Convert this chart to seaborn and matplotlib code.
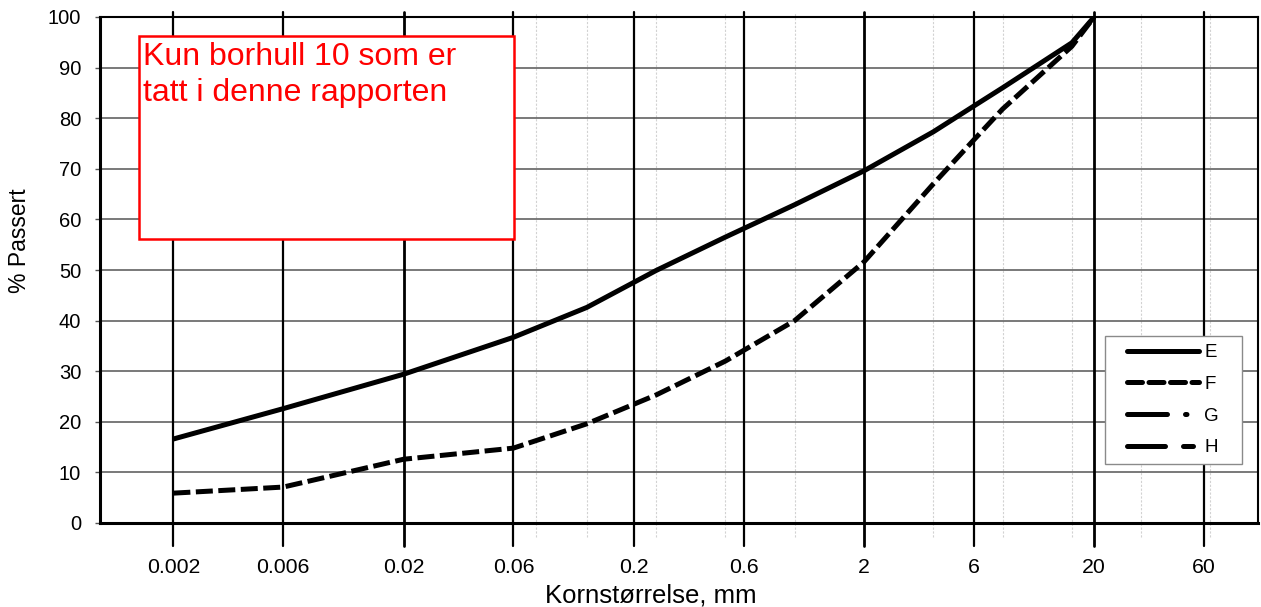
import matplotlib
matplotlib.use("Agg")
import matplotlib.pyplot as plt
from matplotlib.lines import Line2D
from matplotlib.patches import Rectangle
from matplotlib.ticker import NullLocator, FixedLocator, FixedFormatter
import numpy as np
import pandas as pd
import seaborn as sns

# ---------------- data ----------------
grain_mm = [0.002, 0.006, 0.02, 0.06, 0.125, 0.25, 0.5, 1, 2, 4, 6, 8, 16, 20]
passing_E = [16.6, 22.6, 29.4, 36.7, 42.6, 49.9, 56.5, 62.9, 69.6, 77.3, 82.4, 86.0, 94.9, 100]
passing_F = [5.9, 7.1, 12.6, 14.8, 19.6, 25.3, 32.0, 40.0, 51.6, 67.0, 75.7, 81.8, 94.2, 100]
series_labels = ["E", "F", "G", "H"]

major_ticks = [0.002, 0.006, 0.02, 0.06, 0.2, 0.6, 2, 6, 20, 60]
major_labels = ["0.002", "0.006", "0.02", "0.06", "0.2", "0.6", "2", "6", "20", "60"]
decade_lines = [0.02, 2, 20]
minor_sieves = [0.075, 0.125, 0.25, 0.5, 1, 4, 8, 16, 32, 64]
y_ticks = list(range(0, 101, 10))

note_text = "Kun borhull 10 som er\ntatt i denne rapporten"
x_title = "Kornstørrelse, mm"
y_title = "% Passert"

# ---------------- style ----------------
sns.set_theme(style="white")
plt.rcParams["font.family"] = ["Liberation Sans", "DejaVu Sans"]
plt.rcParams["text.color"] = "black"

W, H = 1261, 607
fig = plt.figure(figsize=(W / 100, H / 100), dpi=100)
ax_l, ax_r, ax_t, ax_b = 100, 1258, 17, 523
ax = fig.add_axes([ax_l / W, 1 - ax_b / H, (ax_r - ax_l) / W, (ax_b - ax_t) / H])
ax.set_facecolor("white")

ax.set_xscale("log")
ax.set_xlim(0.00096, 103)
ax.set_ylim(0, 100)

# ---------------- grid ----------------
for v in minor_sieves:
    ax.axvline(v, ymin=-0.028, ymax=1.01, color="#d2d2d2", lw=0.8,
               ls=(0, (2, 1.5)), clip_on=False, zorder=1)
for v in major_ticks:
    ax.axvline(v, ymin=-0.045, ymax=1.01, color="black",
               lw=2.0 if v in decade_lines else 1.6, clip_on=False, zorder=2)
for yv in y_ticks[1:-1]:
    ax.axhline(yv, color="#555555", lw=1.1, zorder=1)

# ---------------- data lines ----------------
n = len(grain_mm)
df = pd.DataFrame({
    "d": grain_mm * 2,
    "p": passing_E + passing_F,
    "s": ["E"] * n + ["F"] * n,
})
f_dash = (3.4, 1.1)
sns.lineplot(data=df[df["s"] == "E"], x="d", y="p", color="black", lw=3.6,
             ax=ax, legend=False, zorder=6, solid_joinstyle="round",
             solid_capstyle="butt")
sns.lineplot(data=df[df["s"] == "F"], x="d", y="p", color="black", lw=3.6,
             linestyle=(0, f_dash), ax=ax, legend=False, zorder=6,
             dash_joinstyle="round", dash_capstyle="butt")

# ---------------- axes / ticks ----------------
ax.xaxis.set_major_locator(FixedLocator(major_ticks))
ax.xaxis.set_major_formatter(FixedFormatter(major_labels))
ax.xaxis.set_minor_locator(NullLocator())
ax.set_yticks(y_ticks)
ax.tick_params(axis="x", which="major", length=0, pad=25, labelsize=15.3,
               labelcolor="black", bottom=True)
ax.tick_params(axis="y", which="major", length=3.5, width=1, color="#555555",
               pad=10, labelsize=14.5, labelcolor="black", left=True)

for side in ["left", "bottom"]:
    ax.spines[side].set_linewidth(2.2)
    ax.spines[side].set_color("black")
for side in ["top", "right"]:
    ax.spines[side].set_linewidth(1.5)
    ax.spines[side].set_color("black")
for s in ax.spines.values():
    s.set_zorder(7)

ax.set_xlabel(x_title, fontsize=18.5, color="black")
ax.set_ylabel(y_title, fontsize=16.5, color="black")
ax.xaxis.set_label_coords((651 - ax_l) / (ax_r - ax_l), (ax_b - 584) / (ax_b - ax_t))
ax.yaxis.set_label_coords((31 - ax_l) / (ax_r - ax_l), (ax_b - 241) / (ax_b - ax_t))

# ---------------- note box ----------------
def ax_x(px):
    return (px - ax_l) / (ax_r - ax_l)

def ax_y(py):
    return (ax_b - py) / (ax_b - ax_t)

ax.add_patch(Rectangle((ax_x(139), ax_y(239)), ax_x(514) - ax_x(139), ax_y(36) - ax_y(239),
                       transform=ax.transAxes, facecolor="white", edgecolor="#ff0000",
                       lw=1.8, zorder=8, clip_on=False))
ax.text(ax_x(143), ax_y(42), note_text, transform=ax.transAxes, color="#ff0000",
        fontsize=23, ha="left", va="top", linespacing=1.27, zorder=9)

# ---------------- legend ----------------
ax.add_patch(Rectangle((ax_x(1105), ax_y(464)), ax_x(1242) - ax_x(1105), ax_y(336) - ax_y(464),
                       transform=ax.transAxes, facecolor="white", edgecolor="#8a8a8a",
                       lw=1.0, zorder=8))
handles = [
    Line2D([], [], color="black", lw=3.6, solid_capstyle="round"),
    Line2D([], [], color="black", lw=3.6, linestyle=(0, (3.0, 1.3)), dash_capstyle="round"),
    Line2D([], [], color="black", lw=3.6, linestyle=(0, (8.0, 3.6, 0.3, 3.6)), dash_capstyle="round"),
    Line2D([], [], color="black", lw=3.6, linestyle=(0, (7.6, 3.6, 2.0, 3.6)), dash_capstyle="round"),
]
leg = ax.legend(handles, series_labels, loc="upper left",
                bbox_to_anchor=(ax_x(1127), ax_y(344)), bbox_transform=ax.transAxes,
                frameon=False, fontsize=13.5, handlelength=3.85, handletextpad=0.28,
                borderpad=0, borderaxespad=0, labelspacing=0.78, labelcolor="black")
leg.set_zorder(10)

fig.savefig("out.png", dpi=100, facecolor="white")
